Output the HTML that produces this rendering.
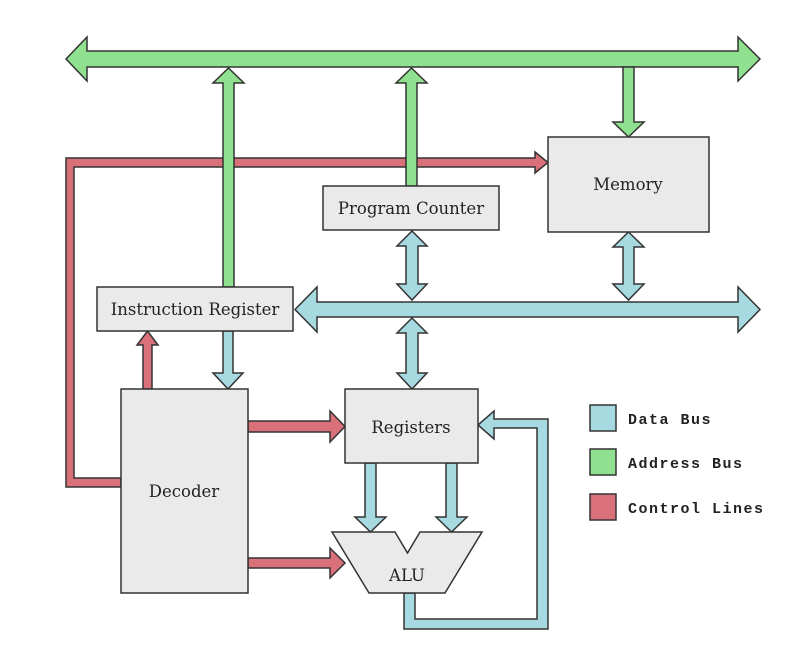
<!DOCTYPE html>
<html><head><meta charset="utf-8"><style>
html,body{margin:0;padding:0;background:#fff;}
svg{display:block;}
.t{font-family:"DejaVu Serif","Liberation Serif",serif;font-size:16.5px;fill:#222;}
.m{font-family:"Liberation Mono",monospace;font-size:15px;font-weight:bold;fill:#222;letter-spacing:1.5px;}
</style></head><body>
<svg width="800" height="663" viewBox="0 0 800 663" xmlns="http://www.w3.org/2000/svg">
<g stroke="#333" stroke-width="1.5" stroke-linejoin="miter">
<polygon fill="#d9707a" points="66,487 66,158 535,158 535,152 548,162.5 535,173 535,167 74,167 74,478 121,478 121,487"/>
<polygon fill="#d9707a" points="143,389 143,345 137,345 147.5,331 158,345 152,345 152,389"/>
<polygon fill="#d9707a" points="248,421 330,421 330,411 345,426.5 330,442 330,432 248,432"/>
<polygon fill="#d9707a" points="248,558 330,558 330,548 345,563 330,578 330,568 248,568"/>
<polygon fill="#8fe08f" points="66,59 87,37 87,51 738,51 738,37 760,59 738,81 738,67 87,67 87,81"/>
<polygon fill="#8fe08f" points="223,287 223,83 213,83 228.5,68 244,83 234,83 234,287"/>
<polygon fill="#8fe08f" points="406,186 406,83 396,83 411.5,68 427,83 417,83 417,186"/>
<polygon fill="#8fe08f" points="623,67 623,122 613,122 628.5,137 644,122 634,122 634,67"/>
<polygon fill="#a6d9e0" points="295,309.5 317,287 317,302 738,302 738,287 760,309.5 738,332 738,317 317,317 317,332"/>
<polygon fill="#a6d9e0" points="412,231 427,246 418,246 418,284 427,284 412,300 397,284 406,284 406,246 397,246"/>
<polygon fill="#a6d9e0" points="628.5,232 644,247 634,247 634,284 644,284 628.5,300 613,284 623,284 623,247 613,247"/>
<polygon fill="#a6d9e0" points="412,318 427,333 418,333 418,373 427,373 412,389 397,373 406,373 406,333 397,333"/>
<polygon fill="#a6d9e0" points="223,331 223,373 213,373 228,389 243,373 233,373 233,331"/>
<polygon fill="#a6d9e0" points="365,463 365,517 355,517 370.5,532 386,517 376,517 376,463"/>
<polygon fill="#a6d9e0" points="446,463 446,517 436,517 451.5,532 467,517 457,517 457,463"/>
<polygon fill="#a6d9e0" points="404,593 404,629 548,629 548,419 494,419 494,411 478,425 494,439 494,428 537,428 537,619 415,619 415,593"/>
<rect x="323" y="186" width="176" height="44" fill="#eaeaea"/>
<rect x="97" y="287" width="196" height="44" fill="#eaeaea"/>
<rect x="548" y="137" width="161" height="95" fill="#eaeaea"/>
<rect x="345" y="389" width="133" height="74" fill="#eaeaea"/>
<rect x="121" y="389" width="127" height="204" fill="#eaeaea"/>
<polygon fill="#eaeaea" points="332,532 395,532 407.5,553 420,532 482,532 445,593 369,593"/>
<rect x="590" y="405" width="26" height="26" fill="#a6d9e0"/>
<rect x="590" y="449" width="26" height="26" fill="#8fe08f"/>
<rect x="590" y="494" width="26" height="26" fill="#d9707a"/>
</g>
<text class="t" x="411" y="214" text-anchor="middle">Program Counter</text>
<text class="t" x="195" y="315" text-anchor="middle">Instruction Register</text>
<text class="t" x="628" y="190" text-anchor="middle">Memory</text>
<text class="t" x="411" y="433" text-anchor="middle">Registers</text>
<text class="t" x="184" y="497" text-anchor="middle">Decoder</text>
<text class="t" x="407" y="581" text-anchor="middle">ALU</text>
<text class="m" x="628" y="424">Data Bus</text>
<text class="m" x="628" y="468">Address Bus</text>
<text class="m" x="628" y="513">Control Lines</text>
</svg>
</body></html>
